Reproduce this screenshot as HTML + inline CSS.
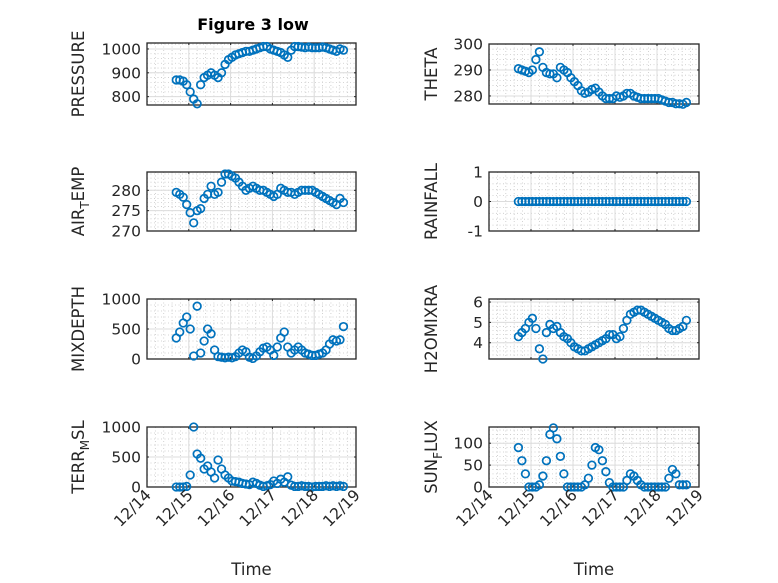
<!DOCTYPE html>
<html><head><meta charset="utf-8"><style>
html,body{margin:0;padding:0;background:#fff;}
svg{display:block;font-family:"DejaVu Sans","Liberation Sans",sans-serif;}
</style></head><body>
<svg id="fig" width="778" height="583" viewBox="0 0 778 583" xmlns="http://www.w3.org/2000/svg">
<rect width="778" height="583" fill="#fff"/>
<text x="253" y="30" text-anchor="middle" font-size="16" font-weight="bold" fill="#000">Figure 3 low</text>
</svg>
<script>
const times = [14.700,14.783,14.867,14.950,15.033,15.117,15.200,15.283,15.367,15.450,15.533,15.617,15.700,15.783,15.867,15.950,16.033,16.117,16.200,16.283,16.367,16.450,16.533,16.617,16.700,16.783,16.867,16.950,17.033,17.117,17.200,17.283,17.367,17.450,17.533,17.617,17.700,17.783,17.867,17.950,18.033,18.117,18.200,18.283,18.367,18.450,18.533,18.617,18.700];
const pressure = [870,870,865,850,820,790,770,850,880,890,900,890,880,900,935,955,965,975,980,985,990,990,995,1000,1005,1010,1010,1000,995,990,985,975,965,995,1010,1010,1008,1005,1008,1005,1005,1005,1008,1005,1000,995,990,1000,995];
const airTemp = [279.5,279,278.3,276.5,274.5,272,275,275.5,278,279,281,279,279.5,282,284,284,283.5,283,282,281,280,280.5,281,280.5,280,280,279.5,279,278.5,279,280.5,280,279.5,279.5,279,279.5,280,280,280,280,279.5,279,278.5,278,277.5,277,276.5,278,277];
const mixDepth = [350,450,600,700,500,50,880,100,300,500,420,150,40,30,20,30,20,40,100,150,120,30,10,50,120,180,200,150,60,200,350,450,200,100,150,200,150,100,80,60,60,80,100,150,250,320,300,320,540];
const terrMsl = [0,0,0,10,200,1000,550,480,300,350,250,150,450,300,200,150,100,90,80,60,50,40,80,60,30,10,20,40,100,60,130,80,170,30,10,10,20,10,10,0,10,10,10,20,10,20,10,20,10];
const theta = [290.5,290,289.5,289,290,294,297,291,289,288.5,288.5,287,291,290,289,287,285.5,284,282,281,281.5,282.5,283,281.5,280,279,279,279,280,279.5,280,281,281,280,279.5,279,279,279,279,279,279,278.5,278,277.5,277.5,277,277,276.8,277.5];
const rainfall = [0,0,0,0,0,0,0,0,0,0,0,0,0,0,0,0,0,0,0,0,0,0,0,0,0,0,0,0,0,0,0,0,0,0,0,0,0,0,0,0,0,0,0,0,0,0,0,0,0];
const h2oMix = [4.3,4.5,4.7,5.0,5.2,4.7,3.7,3.2,4.5,4.9,4.7,4.8,4.5,4.3,4.2,4.0,3.8,3.7,3.6,3.6,3.7,3.8,3.9,4.0,4.1,4.2,4.4,4.4,4.2,4.3,4.7,5.1,5.4,5.5,5.6,5.6,5.5,5.4,5.3,5.2,5.1,5.0,4.9,4.7,4.6,4.6,4.7,4.8,5.1];
const sunFlux = [90,60,30,0,0,0,5,25,60,120,135,110,70,30,0,0,0,0,0,5,20,50,90,85,60,35,10,0,0,0,0,15,30,25,15,5,0,0,0,0,0,0,0,20,40,30,5,5,5];
const xTicks = [14,15,16,17,18,19];
const xTickLabels = ["12/14","12/15","12/16","12/17","12/18","12/19"];

const NS="http://www.w3.org/2000/svg";
const svg=document.getElementById('fig');
function mk(tag,attrs,parent){const e=document.createElementNS(NS,tag);for(const k in attrs)e.setAttribute(k,attrs[k]);(parent||svg).appendChild(e);return e;}

const panels=[
 {key:'pressure',vals:pressure,x0:147,x1:356,y0:43,y1:105,ymin:765,ymax:1025,yt:[800,900,1000],ym:20,label:['PRESSURE'],bottom:false},
 {key:'theta',vals:theta,x0:489,x1:699,y0:44,y1:104,ymin:276.9,ymax:300,yt:[280,290,300],ym:2,label:['THETA'],bottom:false},
 {key:'air-temp',vals:airTemp,x0:147,x1:356,y0:172,y1:231,ymin:270,ymax:284.5,yt:[270,275,280],ym:1,label:['AIR','T','EMP'],bottom:false},
 {key:'rainfall',vals:rainfall,x0:489,x1:699,y0:172,y1:231,ymin:-1,ymax:1,yt:[-1,0,1],ym:0.2,label:['RAINFALL'],bottom:false},
 {key:'mixdepth',vals:mixDepth,x0:147,x1:356,y0:299,y1:359,ymin:0,ymax:1000,yt:[0,500,1000],ym:100,label:['MIXDEPTH'],bottom:false},
 {key:'h2omixra',vals:h2oMix,x0:489,x1:699,y0:299,y1:359,ymin:3.2,ymax:6.15,yt:[4,5,6],ym:0.2,label:['H2OMIXRA'],bottom:false},
 {key:'terr-msl',vals:terrMsl,x0:147,x1:356,y0:427,y1:487,ymin:0,ymax:1000,yt:[0,500,1000],ym:100,label:['TERR','M','SL'],bottom:true},
 {key:'sun-flux',vals:sunFlux,x0:489,x1:699,y0:427,y1:487,ymin:0,ymax:137,yt:[0,50,100],ym:10,label:['SUN','F','LUX'],bottom:true}
];

panels.forEach(p=>{
 const g=mk('g',{});
 
 
 const xs=t=>p.x0+(t-14)/(19-14)*(p.x1-p.x0);
 const ys=v=>p.y1-(v-p.ymin)/(p.ymax-p.ymin)*(p.y1-p.y0);
 mk('rect',{x:p.x0,y:p.y0,width:p.x1-p.x0,height:p.y1-p.y0,fill:'#fff'},g);
 for(let t=14;t<=19.001;t+=0.2){const x=xs(t);mk('line',{x1:x,x2:x,y1:p.y0,y2:p.y1,stroke:'#c8c8c8','stroke-width':0.8,'stroke-dasharray':'1 2.5'},g);}
 for(let v=Math.ceil(p.ymin/p.ym)*p.ym;v<=p.ymax+1e-9;v+=p.ym){const y=ys(v);mk('line',{x1:p.x0,x2:p.x1,y1:y,y2:y,stroke:'#c8c8c8','stroke-width':0.8,'stroke-dasharray':'1 2.5'},g);}
 xTicks.forEach(t=>{const x=xs(t);mk('line',{x1:x,x2:x,y1:p.y0,y2:p.y1,stroke:'#dcdcdc','stroke-width':1},g);
   mk('line',{x1:x,x2:x,y1:p.y1,y2:p.y1-2,stroke:'#262626','stroke-width':1},g);mk('line',{x1:x,x2:x,y1:p.y0,y2:p.y0+2,stroke:'#262626','stroke-width':1},g);});
 p.yt.forEach(v=>{const y=ys(v);mk('line',{x1:p.x0,x2:p.x1,y1:y,y2:y,stroke:'#dcdcdc','stroke-width':1},g);
   mk('line',{x1:p.x0,x2:p.x0+2,y1:y,y2:y,stroke:'#262626','stroke-width':1},g);mk('line',{x1:p.x1,x2:p.x1-2,y1:y,y2:y,stroke:'#262626','stroke-width':1},g);
   const tl=mk('text',{x:p.x0-6,y:y+5.5,'text-anchor':'end','font-size':15.5,fill:'#262626'},g);tl.textContent=String(v);
   
   });
 mk('rect',{x:p.x0,y:p.y0,width:p.x1-p.x0,height:p.y1-p.y0,fill:'none',stroke:'#262626','stroke-width':1.3},g);
 times.forEach((t,i)=>{const c=mk('circle',{cx:xs(t),cy:ys(p.vals[i]),r:3.8,fill:'none',stroke:'#0072BD','stroke-width':1.7},g);
   
   });
 const lx=p.x0<300?84:437, ly=(p.y0+p.y1)/2;
 const yl=mk('text',{x:lx,y:ly,'text-anchor':'middle','font-size':16.5,fill:'#262626',transform:`rotate(-90 ${lx} ${ly})`},g);
 
 
 if(p.label.length===1){yl.textContent=p.label[0];}
 else{const a=mk('tspan',{},yl);a.textContent=p.label[0];const b=mk('tspan',{dy:5,'font-size':12},yl);b.textContent=p.label[1];const c=mk('tspan',{dy:-5},yl);c.textContent=p.label[2];}
 if(p.bottom){
   xTicks.forEach((t,i)=>{const x=xs(t)+5,y=p.y1+9;const tl=mk('text',{x:x,y:y,'text-anchor':'end','font-size':15.5,fill:'#262626',transform:`rotate(-45 ${x} ${y})`},g);tl.textContent=xTickLabels[i];
     
     });
   const xt=mk('text',{x:(p.x0+p.x1)/2,y:575,'text-anchor':'middle','font-size':16.5,fill:'#262626'},g);xt.textContent='Time';
   
   
 }
});
</script>
</body></html>
